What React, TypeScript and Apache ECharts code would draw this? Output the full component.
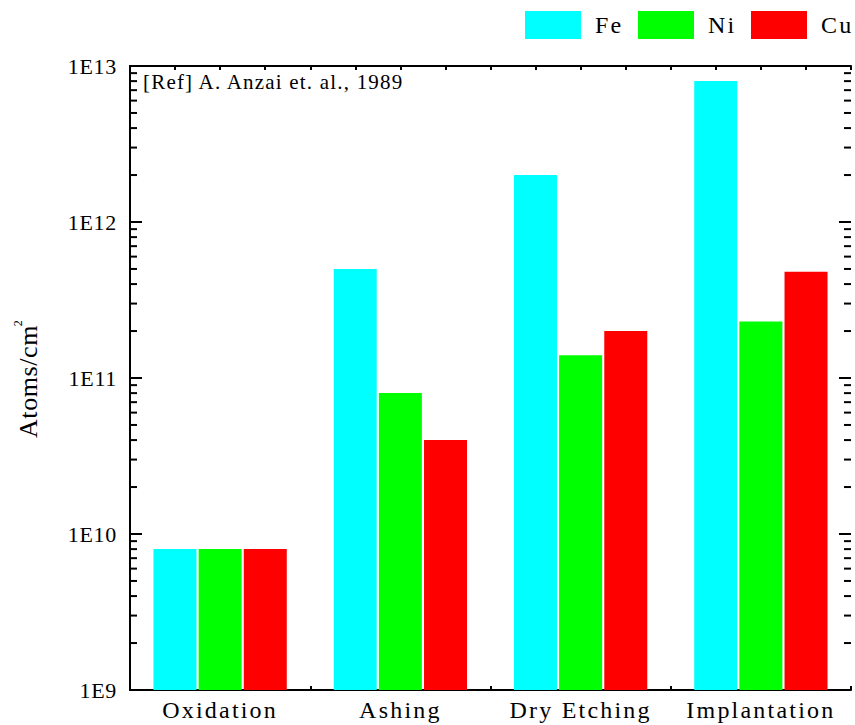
import React, { useEffect, useRef } from "react";
import * as echarts from "echarts";

const categories = ["Oxidation", "Ashing", "Dry Etching", "Implantation"];
const feValues = [8e9, 5e11, 2e12, 8e12];
const niValues = [8e9, 8e10, 1.4e11, 2.3e11];
const cuValues = [8e9, 4e10, 2e11, 4.8e11];
const seriesNames = ["Fe", "Ni", "Cu"];
const seriesColors = ["#00FFFF", "#00FF00", "#FF0000"];
const yMin = 1e9;
const yMax = 1e13;
const minorMultipliers = [2, 3, 4, 5, 6, 7, 8, 9];
const decades = [1e9, 1e10, 1e11, 1e12, 1e13];
const refText = "[Ref] A. Anzai et. al., 1989";

const FONT = "Liberation Serif";

const css = `
text[style*="24px"] { letter-spacing: 2.2px; }
text[style*="22px"] { letter-spacing: 0.7px; }
text[style*="21px"] { letter-spacing: 1.2px; }
text[style*="26px"] { letter-spacing: 0.6px; }
`;

export default function App() {
  const ref = useRef<HTMLDivElement>(null);
  useEffect(() => {
    if (!ref.current) return;
    const chart = echarts.init(ref.current, null, { renderer: "svg" });
    const yTicks: number[][] = [];
    decades.forEach((d) => {
      yTicks.push([0, d, 12]);
      if (d < yMax) minorMultipliers.forEach((m) => yTicks.push([0, d * m, 7]));
    });
    const logAxisCommon = {
      type: "log",
      logBase: 10,
      min: yMin,
      max: yMax,
      splitLine: { show: false },
      axisLine: { show: true, lineStyle: { color: "#000", width: 2 } },
      axisTick: { show: false },
    };
    const option: any = {
      animation: false,
      backgroundColor: "#fff",
      textStyle: { fontFamily: FONT },
      grid: { left: 130, right: 4, top: 66, bottom: 35, containLabel: false },
      legend: {
        left: 525,
        top: 11,
        padding: 0,
        width: 330,
        itemWidth: 56,
        itemHeight: 28,
        itemGap: 19,
        icon: "rect",
        data: seriesNames,
        textStyle: { fontFamily: FONT, fontSize: 24, color: "#000", padding: [0, 0, 0, 9] },
      },
      xAxis: [
        {
          type: "category",
          data: categories,
          position: "bottom",
          axisLine: { show: true, lineStyle: { color: "#000", width: 2 } },
          axisTick: { show: false },
          axisLabel: { color: "#000", fontSize: 24, fontFamily: FONT, margin: 8 },
        },
        {
          type: "value",
          min: 0,
          max: 16,
          interval: 1,
          position: "bottom",
          axisLine: { show: false },
          axisTick: { show: true, inside: true, length: 4, lineStyle: { color: "#000", width: 2 } },
          axisLabel: { show: false },
          splitLine: { show: false },
        },
        {
          type: "value",
          min: 0,
          max: 16,
          interval: 1,
          position: "top",
          axisLine: { show: true, lineStyle: { color: "#000", width: 2 } },
          axisTick: { show: true, inside: true, length: 4, lineStyle: { color: "#000", width: 2 } },
          axisLabel: { show: false },
          splitLine: { show: false },
        },
      ],
      yAxis: [
        {
          ...logAxisCommon,
          position: "left",
          name: "{a|Atoms/cm}{s|2}",
          nameLocation: "middle",
          nameRotate: 90,
          nameGap: 86,
          nameTextStyle: {
            rich: {
              a: { fontFamily: FONT, fontSize: 26, color: "#000", lineHeight: 32 },
              s: { fontFamily: FONT, fontSize: 12, color: "#000", lineHeight: 32, verticalAlign: "top", padding: [0, 0, 16, 1] },
            },
          },
          axisLabel: {
            color: "#000",
            fontSize: 22,
            fontFamily: FONT,
            margin: 13,
            formatter: (v: number) => "1E" + Math.round(Math.log10(v)),
          },
        },
        {
          ...logAxisCommon,
          position: "right",
          axisLabel: { show: false },
        },
      ],
      graphic: [
        {
          type: "text",
          left: 143,
          top: 71,
          style: { text: refText, font: `21px ${FONT}`, fill: "#000" },
        },
      ],
      series: [
        ...[feValues, niValues, cuValues].map((vals, i) => ({
          name: seriesNames[i],
          type: "bar",
          xAxisIndex: 0,
          yAxisIndex: 0,
          data: vals,
          barWidth: 43,
          barGap: "5%",
          itemStyle: { color: seriesColors[i] },
        })),
        {
          type: "custom",
          xAxisIndex: 0,
          yAxisIndex: 0,
          data: yTicks,
          silent: true,
          clip: false,
          renderItem: (params: any, api: any) => {
            const y = api.coord([0, api.value(1)])[1];
            const len = api.value(2);
            const cs = params.coordSys;
            const style = { stroke: "#000", lineWidth: 2 };
            return {
              type: "group",
              children: [
                { type: "line", shape: { x1: cs.x, y1: y, x2: cs.x + len, y2: y }, style },
                { type: "line", shape: { x1: cs.x + cs.width - len, y1: y, x2: cs.x + cs.width, y2: y }, style },
              ],
            };
          },
        },
      ],
    };
    chart.setOption(option);
    return () => chart.dispose();
  }, []);
  return (
    <>
      <style>{css}</style>
      <div ref={ref} style={{ width: 855, height: 725, position: "absolute", left: 0, top: 0 }} />
    </>
  );
}
